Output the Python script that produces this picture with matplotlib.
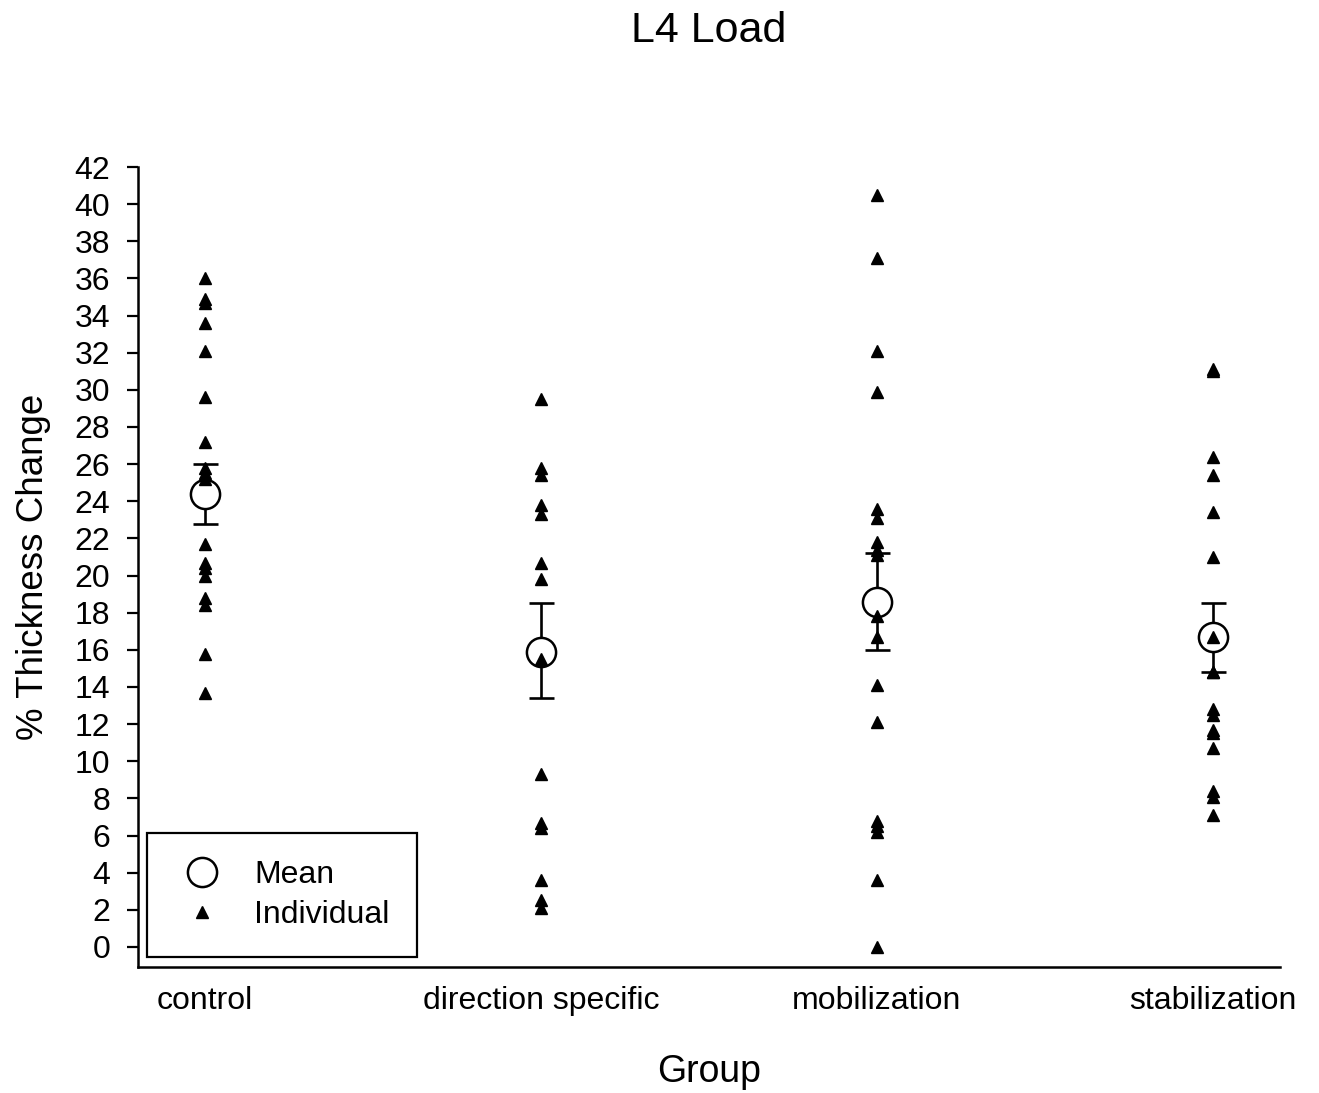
import numpy as np
from matplotlib import pyplot as plt
from matplotlib.lines import Line2D

plt.rcParams['font.family'] = ['Liberation Sans', 'DejaVu Sans']

groups = ["control", "direction specific", "mobilization", "stabilization"]

control = [36.0, 34.9, 34.7, 33.6, 32.1, 29.6, 27.2, 25.8, 25.5, 25.2,
           21.7, 20.7, 20.4, 20.0, 18.8, 18.4, 15.8, 13.7]
direction = [29.5, 25.8, 25.4, 23.8, 23.3, 20.7, 19.8, 15.5, 9.3, 6.7,
             6.4, 3.6, 2.5, 2.1]
mobilization = [40.5, 37.1, 32.1, 29.9, 23.6, 23.1, 21.8, 21.4, 21.1,
                17.8, 16.7, 14.1, 12.1, 6.8, 6.5, 6.2, 3.6, 0.0]
stabilization = [31.1, 31.0, 26.4, 25.4, 23.4, 21.0, 16.7, 14.8, 14.8,
                 12.8, 12.5, 11.7, 11.5, 10.7, 8.4, 8.1, 7.1]

means = [24.4, 15.9, 18.6, 16.7]
err_low = [22.8, 13.4, 16.0, 14.8]
err_high = [26.0, 18.5, 21.2, 18.5]

individuals = [control, direction, mobilization, stabilization]
xpos = np.arange(1, len(groups) + 1)

fig = plt.figure(figsize=(13.19, 10.93), dpi=100)
ax = fig.add_axes([0.1046, 0.1153, 0.8658, 0.7319])

# error bars first, then the mean circle, then the individual points on top
yerr = [np.array(means) - np.array(err_low), np.array(err_high) - np.array(means)]
ax.errorbar(xpos, means, yerr=yerr, fmt='none', ecolor='black', elinewidth=1.9,
            capsize=9, capthick=1.9, zorder=2)
ax.plot(xpos, means, 'o', ms=21, mfc='white', mec='black', mew=1.8, zorder=3)
for x, vals in zip(xpos, individuals):
    ax.plot([x] * len(vals), vals, '^', ms=8.5, color='black', zorder=4)

ax.set_xlim(0.8, 4.2)
ax.set_ylim(-1.08, 42)
ax.set_yticks(range(0, 43, 2))
ax.set_xticks(xpos)
ax.set_xticklabels(groups)
ax.tick_params(axis='y', direction='out', length=8, width=1.6, pad=12, labelsize=23)
ax.tick_params(axis='x', length=0, pad=14, labelsize=23)
for side in ['top', 'right']:
    ax.spines[side].set_visible(False)
for side in ['left', 'bottom']:
    ax.spines[side].set_linewidth(1.8)

ax.set_xlabel("Group", fontsize=27, labelpad=27)
ax.set_ylabel("% Thickness Change", fontsize=26.5, labelpad=17)
fig.text(0.5375, 0.972, "L4 Load", fontsize=31, ha='center', va='center')

handles = [Line2D([], [], ls='none', marker='o', ms=21, mfc='white', mec='black', mew=1.8),
           Line2D([], [], ls='none', marker='^', ms=8.5, color='black')]
leg = ax.legend(handles, ["Mean", "Individual"], loc='lower left',
                bbox_to_anchor=(0.008, 0.0125), borderaxespad=0, fontsize=23,
                fancybox=False, edgecolor='black', framealpha=1, borderpad=0.85,
                handlelength=1.75, handletextpad=0.75, labelspacing=0.3, numpoints=1)
leg.get_frame().set_linewidth(1.6)

plt.savefig("out.png", dpi=100)
